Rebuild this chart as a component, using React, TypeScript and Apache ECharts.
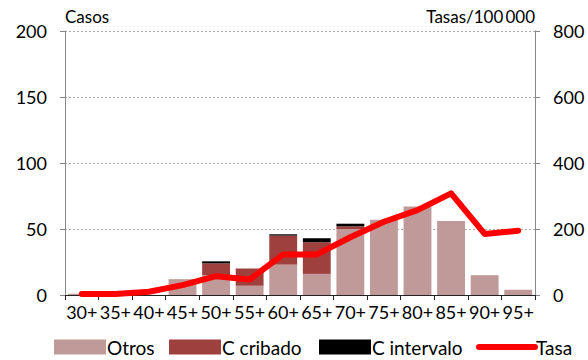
import React, { useEffect, useRef } from "react";
import * as echarts from "echarts";

const categories = ["30+", "35+", "40+", "45+", "50+", "55+", "60+", "65+", "70+", "75+", "80+", "85+", "90+", "95+"];
const otros = [1, 0, 0, 12, 15, 7, 23, 16, 50, 57, 67, 56, 15, 4];
const cribado = [0, 0, 0, 0, 9, 13, 22, 24, 2, 0, 0, 0, 0, 0];
const intervalo = [0, 0, 0, 0, 1.5, 0, 1, 3, 2, 0, 0, 0, 0, 0];
const tasa = [3, 3, 10, 30, 57, 47, 123, 123, 175, 222, 257, 308, 185, 195];
const leftTicks = [0, 50, 100, 150, 200];
const rightTicks = [0, 200, 400, 600, 800];
const legendNames = ["Otros", "C cribado", "C intervalo", "Tasa"];

const FONT = "Lato";

export default function App() {
  const ref = useRef<HTMLDivElement>(null);
  useEffect(() => {
    const chart = echarts.init(ref.current!, null, { renderer: "svg" });
    const legendLefts = [54, 169, 319, 476];
    const legends = legendNames.map((name, i) => ({
      left: legendLefts[i],
      bottom: 3,
      padding: 0,
      itemWidth: i === 3 ? 56 : 52,
      itemHeight: 15,
      textStyle: { fontFamily: FONT, fontSize: 19, lineHeight: 20, color: "#000", padding: [0, 0, 0, -4] },
      lineStyle: { width: 6, cap: "round" },
      data: i === 3
        ? [{ name, itemStyle: { color: "rgba(0,0,0,0)", borderWidth: 0 }, lineStyle: { width: 6, cap: "round", color: "#FF0000" } }]
        : [{ name, icon: "rect" }],
    }));
    chart.setOption({
      animation: false,
      textStyle: { fontFamily: FONT, color: "#000" },
      grid: { left: 65, right: 53, top: 31, bottom: 65 },
      legend: legends,
      xAxis: {
        type: "category",
        data: categories,
        axisLine: { lineStyle: { color: "#222", width: 1 } },
        axisTick: { show: true, length: 5, lineStyle: { color: "#222" } },
        axisLabel: { fontFamily: FONT, fontSize: 18, color: "#000", margin: 8, interval: 0 },
      },
      yAxis: [
        {
          type: "value",
          min: leftTicks[0],
          max: leftTicks[leftTicks.length - 1],
          interval: 50,
          name: "Casos",
          nameLocation: "end",
          nameGap: 6,
          nameTextStyle: { fontFamily: FONT, fontSize: 17, color: "#000", align: "left" },
          axisLine: { show: true, lineStyle: { color: "#888" } },
          axisTick: { show: true, length: 5, lineStyle: { color: "#888" } },
          axisLabel: { fontFamily: FONT, fontSize: 18, color: "#000", margin: 18 },
          splitLine: { show: true, lineStyle: { color: "#aaa", type: [2, 2], width: 1 } },
        },
        {
          type: "value",
          min: rightTicks[0],
          max: rightTicks[rightTicks.length - 1],
          interval: 200,
          name: "Tasas/100\u2009000",
          nameLocation: "end",
          nameGap: 6,
          nameTextStyle: { fontFamily: FONT, fontSize: 17, color: "#000", align: "right" },
          axisLine: { show: true, lineStyle: { color: "#888" } },
          axisTick: { show: true, length: 5, lineStyle: { color: "#888" } },
          axisLabel: { fontFamily: FONT, fontSize: 18, color: "#000", margin: 18 },
          splitLine: { show: false },
        },
      ],
      series: [
        {
          name: "Otros",
          type: "bar",
          stack: "casos",
          data: otros,
          barCategoryGap: "17%",
          itemStyle: { color: "#C09A98" },
        },
        {
          name: "C cribado",
          type: "bar",
          stack: "casos",
          data: cribado,
          itemStyle: { color: "#9E413E" },
        },
        {
          name: "C intervalo",
          type: "bar",
          stack: "casos",
          data: intervalo,
          itemStyle: { color: "#000000" },
        },
        {
          name: "Tasa",
          type: "line",
          yAxisIndex: 1,
          data: tasa,
          symbol: "none",
          lineStyle: { color: "#FF0000", width: 6, cap: "round", join: "round" },
          itemStyle: { color: "#FF0000" },
        },
      ],
    });
    return () => chart.dispose();
  }, []);
  return <div ref={ref} style={{ width: 588, height: 360, position: "absolute", left: 0, top: 0 }} />;
}
